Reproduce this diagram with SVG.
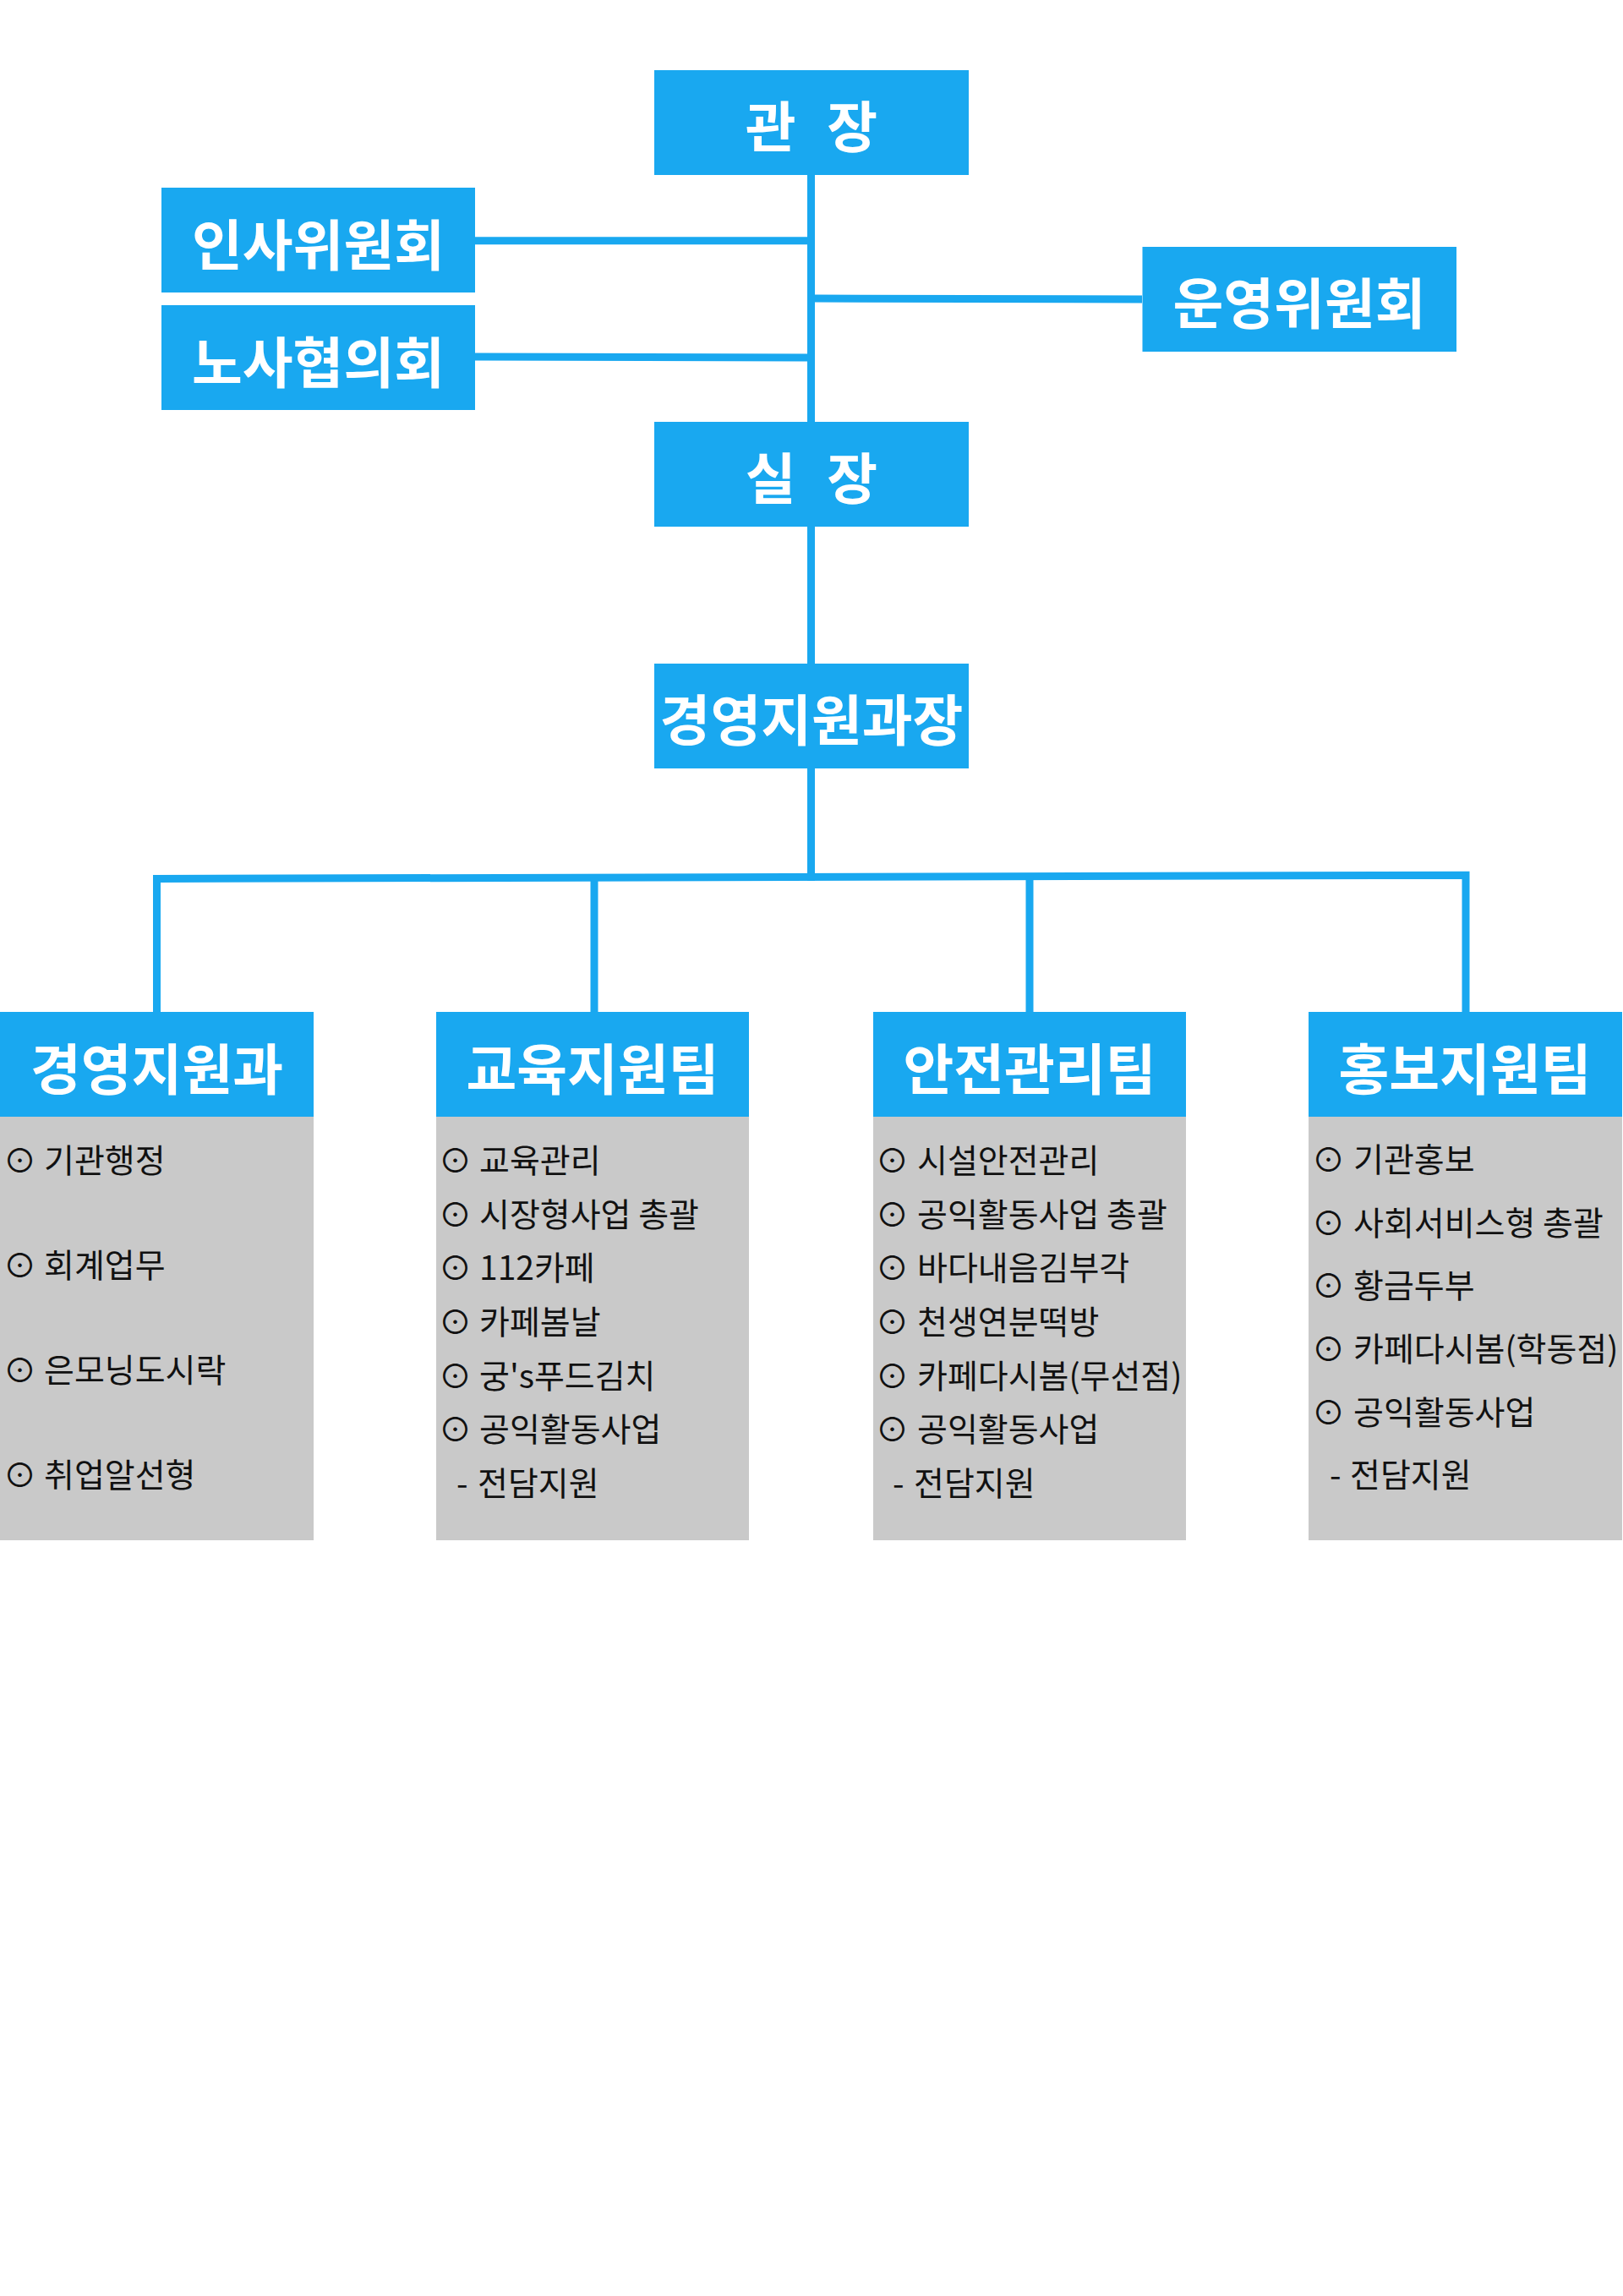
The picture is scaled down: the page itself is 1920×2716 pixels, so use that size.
<svg xmlns="http://www.w3.org/2000/svg" width="1920" height="2716" viewBox="0 0 1920 2716">
<style>
.bx{fill:#19A8F0}
.gy{fill:#C9C9C9}
.hd{font-family:"Noto Sans CJK KR","Noto Sans",sans-serif;font-weight:700;font-size:65px;fill:#FFFFFF;text-anchor:middle}
.it{font-family:"Noto Sans CJK KR","Noto Sans",sans-serif;font-weight:400;font-size:39px;fill:#111111}
.ln{fill:none;stroke:#19A8F0;stroke-width:9;stroke-linejoin:miter;stroke-linecap:butt}
</style>
<rect width="1920" height="2716" fill="#FFFFFF"/>
<g id="connectors">
<path class="ln" d="M959.5 207 V1042"/>
<path class="ln" d="M562 284.7 L955 284.7"/>
<path class="ln" d="M562 422 L955 423"/>
<path class="ln" d="M964 353 L1351 354"/>
<path class="ln" d="M185.5 1197 V1039.5 L1734 1035.3 V1197"/>
<path class="ln" d="M703 1037.5 V1197"/>
<path class="ln" d="M1218 1036.5 V1197"/>
</g>
<g id="n-gwanjang">
<rect class="bx" x="774" y="83" width="372" height="124"/>
<text class="hd" x="960" y="174" word-spacing="22">관 장</text>
</g>
<g id="n-insa">
<rect class="bx" x="191" y="222" width="371" height="124"/>
<text class="hd" x="376.5" y="314">인사위원회</text>
</g>
<g id="n-nosa">
<rect class="bx" x="191" y="361" width="371" height="124"/>
<text class="hd" x="376.5" y="453">노사협의회</text>
</g>
<g id="n-unyeong">
<rect class="bx" x="1351.5" y="292" width="371.5" height="124"/>
<text class="hd" x="1537" y="383">운영위원회</text>
</g>
<g id="n-siljang">
<rect class="bx" x="774" y="499" width="372" height="124"/>
<text class="hd" x="960" y="590" word-spacing="22">실 장</text>
</g>
<g id="n-gwajang">
<rect class="bx" x="774" y="785" width="372" height="124"/>
<text class="hd" x="960" y="876">경영지원과장</text>
</g>
<g id="n-team1">
<rect class="bx" x="0" y="1197" width="371" height="124"/>
<rect class="gy" x="0" y="1321" width="371" height="501"/>
<text class="hd" x="185.5" y="1289">경영지원과</text>
<text class="it" y="1387"><tspan x="4">⊙ </tspan><tspan x="52">기관행정</tspan></text>
<text class="it" y="1511"><tspan x="4">⊙ </tspan><tspan x="52">회계업무</tspan></text>
<text class="it" y="1635"><tspan x="4">⊙ </tspan><tspan x="52">은모닝도시락</tspan></text>
<text class="it" y="1759"><tspan x="4">⊙ </tspan><tspan x="52">취업알선형</tspan></text>
</g>
<g id="n-team2">
<rect class="bx" x="516" y="1197" width="370" height="124"/>
<rect class="gy" x="516" y="1321" width="370" height="501"/>
<text class="hd" x="701" y="1289">교육지원팀</text>
<text class="it" y="1387"><tspan x="519">⊙ </tspan><tspan x="567">교육관리</tspan></text>
<text class="it" y="1451"><tspan x="519">⊙ </tspan><tspan x="567">시장형사업 총괄</tspan></text>
<text class="it" y="1514"><tspan x="519">⊙ </tspan><tspan x="567">112카페</tspan></text>
<text class="it" y="1578"><tspan x="519">⊙ </tspan><tspan x="567">카페봄날</tspan></text>
<text class="it" y="1642"><tspan x="519">⊙ </tspan><tspan x="567">궁's푸드김치</tspan></text>
<text class="it" y="1705"><tspan x="519">⊙ </tspan><tspan x="567">공익활동사업</tspan></text>
<text class="it" y="1769"><tspan x="540">- </tspan><tspan x="565">전담지원</tspan></text>
</g>
<g id="n-team3">
<rect class="bx" x="1033" y="1197" width="370" height="124"/>
<rect class="gy" x="1033" y="1321" width="370" height="501"/>
<text class="hd" x="1218" y="1289">안전관리팀</text>
<text class="it" y="1387"><tspan x="1036">⊙ </tspan><tspan x="1085">시설안전관리</tspan></text>
<text class="it" y="1451"><tspan x="1036">⊙ </tspan><tspan x="1085">공익활동사업 총괄</tspan></text>
<text class="it" y="1514"><tspan x="1036">⊙ </tspan><tspan x="1085">바다내음김부각</tspan></text>
<text class="it" y="1578"><tspan x="1036">⊙ </tspan><tspan x="1085">천생연분떡방</tspan></text>
<text class="it" y="1642"><tspan x="1036">⊙ </tspan><tspan x="1085">카페다시봄(무선점)</tspan></text>
<text class="it" y="1705"><tspan x="1036">⊙ </tspan><tspan x="1085">공익활동사업</tspan></text>
<text class="it" y="1769"><tspan x="1056">- </tspan><tspan x="1081">전담지원</tspan></text>
</g>
<g id="n-team4">
<rect class="bx" x="1548" y="1197" width="371" height="124"/>
<rect class="gy" x="1548" y="1321" width="371" height="501"/>
<text class="hd" x="1733" y="1289">홍보지원팀</text>
<text class="it" y="1386"><tspan x="1552">⊙ </tspan><tspan x="1601">기관홍보</tspan></text>
<text class="it" y="1461"><tspan x="1552">⊙ </tspan><tspan x="1601">사회서비스형 총괄</tspan></text>
<text class="it" y="1535"><tspan x="1552">⊙ </tspan><tspan x="1601">황금두부</tspan></text>
<text class="it" y="1610"><tspan x="1552">⊙ </tspan><tspan x="1601">카페다시봄(학동점)</tspan></text>
<text class="it" y="1685"><tspan x="1552">⊙ </tspan><tspan x="1601">공익활동사업</tspan></text>
<text class="it" y="1759"><tspan x="1573">- </tspan><tspan x="1597">전담지원</tspan></text>
</g>
</svg>
